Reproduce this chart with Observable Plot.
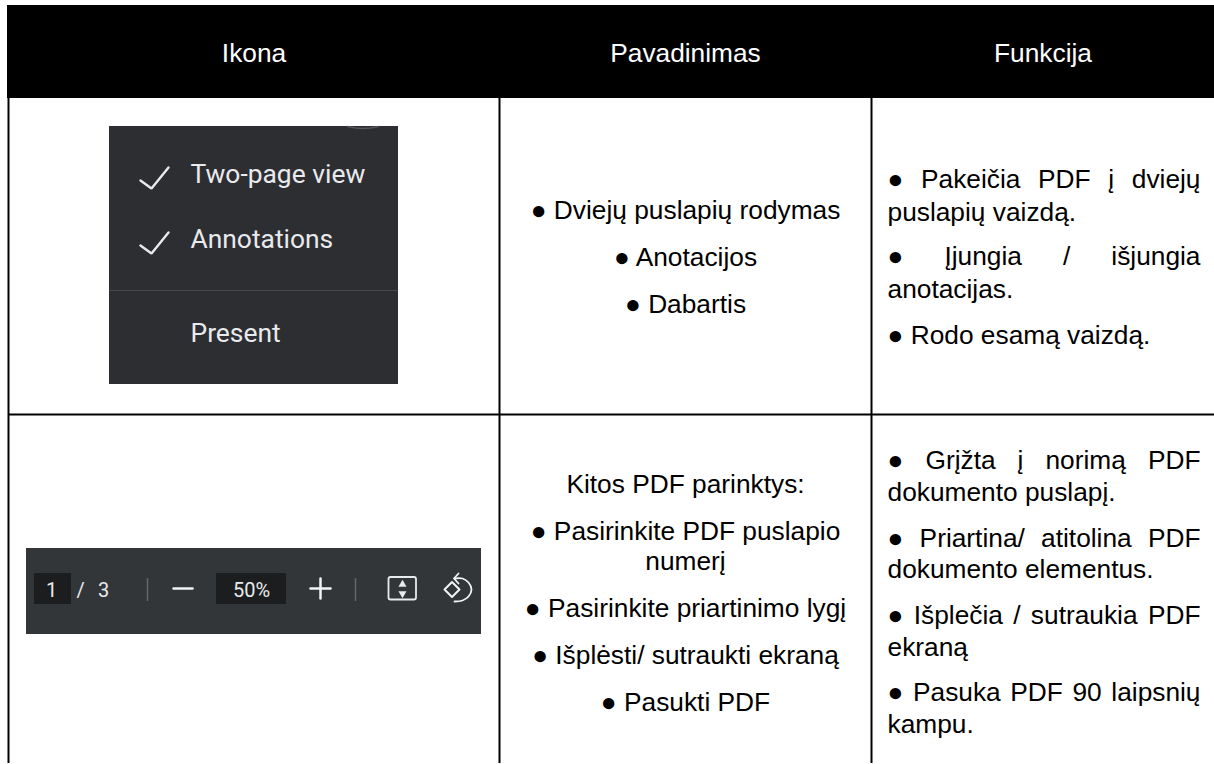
<!DOCTYPE html>
<html>
<head>
<meta charset="utf-8">
<style>
html,body{margin:0;padding:0;background:#fff;overflow:hidden}
svg{display:block}
</style>
<script src="https://cdn.jsdelivr.net/npm/d3@7"></script>
<script src="https://cdn.jsdelivr.net/npm/@observablehq/plot@0.6"></script>
</head>
<body>
<script>
// ---- table content ----
const headers = ["Ikona", "Pavadinimas", "Funkcija"];
const namesRow1 = ["● Dviejų puslapių rodymas", "● Anotacijos", "● Dabartis"];
const namesRow2 = ["Kitos PDF parinktys:", "● Pasirinkite PDF puslapio", "numerį",
  "● Pasirinkite priartinimo lygį", "● Išplėsti/ sutraukti ekraną", "● Pasukti PDF"];
const functionsRow1 = ["● Pakeičia PDF į dviejų", "puslapių vaizdą.", "● Įjungia / išjungia",
  "anotacijas.", "● Rodo esamą vaizdą."];
const functionsRow2 = ["● Grįžta į norimą PDF", "dokumento puslapį.", "● Priartina/ atitolina PDF",
  "dokumento elementus.", "● Išplečia / sutraukia PDF", "ekraną", "● Pasuka PDF 90 laipsnių", "kampu."];
const justifiedLines = new Set(["● Pakeičia PDF į dviejų", "● Įjungia / išjungia", "● Grįžta į norimą PDF",
  "● Priartina/ atitolina PDF", "● Išplečia / sutraukia PDF", "● Pasuka PDF 90 laipsnių"]);
const menuLabels = ["Two-page view", "Annotations", "Present"];
const toolbarLabels = ["1", "/", "3", "50%"];

// ---- layout (the scales below are 1:1 with the picture) ----
const W = 1214, H = 764;
const colEdges = [8, 499, 871, W];
const headerBand = [5, 98], rowLine = 414, tableBottom = 763;
const fontBody = "Liberation Sans", fontUi = "Roboto", bodySize = 26.3;
const headerBase = 61;
const nameBase1 = [218, 265, 312], nameBase2 = [492, 539, 569, 616, 663, 710];
const funcBase1 = [187, 220, 264, 297, 343], funcBase2 = [468, 500, 546, 577, 623, 655, 700, 732];
const funcLeft = 887, funcRight = 1200;
const center = i => (colEdges[i] + colEdges[i + 1]) / 2;

// Measure words so the justified lines can be spread across the cell
const ctx = document.createElement("canvas").getContext("2d");
ctx.font = `${bodySize}px "${fontBody}"`;
const functionWords = (lines, bases) => lines.flatMap((line, i) => {
  const words = line.split(" ");
  if (!justifiedLines.has(line)) return [{text: line, x: funcLeft, y: bases[i]}];
  const widths = words.map(w => ctx.measureText(w).width);
  const gap = (funcRight - funcLeft - d3.sum(widths)) / (words.length - 1);
  let x = funcLeft;
  return words.map((text, k) => { const o = {text, x, y: bases[i]}; x += widths[k] + gap; return o; });
});

const bodyCentered = [
  ...namesRow1.map((text, i) => ({text, y: nameBase1[i]})),
  ...namesRow2.map((text, i) => ({text, y: nameBase2[i]}))
];
const bodyWords = [...functionWords(functionsRow1, funcBase1), ...functionWords(functionsRow2, funcBase2)];

// ---- screenshots inside the "Ikona" column ----
const menuBox = {x1: 109, x2: 398, y1: 126, y2: 384};
const toolbarBox = {x1: 26, x2: 481, y1: 548, y2: 634};
const toolbarInputs = [{x1: 34, x2: 71}, {x1: 216, x2: 286}];
const menuText = [{x: 190, y: 182}, {x: 190, y: 247}, {x: 190, y: 341}].map((p, i) => ({...p, text: menuLabels[i]}));
const toolbarText = [{x: 51, y: 596}, {x: 80, y: 596}, {x: 103, y: 596}, {x: 251, y: 596}].map((p, i) => ({...p, text: toolbarLabels[i]}));
const checks = [
  {id: "a", x: 140, y: 180}, {id: "a", x: 151, y: 188}, {id: "a", x: 168, y: 167},
  {id: "b", x: 140, y: 245}, {id: "b", x: 151, y: 253}, {id: "b", x: 168, y: 232}
];
const menuArc = [{x: 347, y: 126}, {x: 355, y: 127.5}, {x: 362, y: 128}, {x: 370, y: 127.5}, {x: 378, y: 126}];
const toolStrokes = [
  {id: "minus", x: 173, y: 588}, {id: "minus", x: 192, y: 588},
  {id: "plusH", x: 310, y: 588}, {id: "plusH", x: 330, y: 588},
  {id: "plusV", x: 320, y: 578}, {id: "plusV", x: 320, y: 598}
];
const diamond = [{x: 444, y: 589}, {x: 451.5, y: 581.5}, {x: 459, y: 589}, {x: 451.5, y: 596.5}, {x: 444, y: 589}];
const rotateArc = [{x: 454, y: 578}, {x: 462, y: 578}, {x: 468, y: 582}, {x: 471, y: 589}, {x: 468, y: 596}, {x: 462, y: 600}, {x: 454, y: 601}];
const rotateHead = [{x: 458, y: 573}, {x: 453.5, y: 578}, {x: 458, y: 583}];
const fitTriangles = [{x: 402, y: 584, rotate: 0}, {x: 402, y: 593, rotate: 180}];

const chart = Plot.plot({
  width: W, height: H,
  margin: 0,
  x: {domain: [0, W], range: [0, W], axis: null},
  y: {domain: [0, H], range: [0, H], axis: null},
  marks: [
    // table frame
    Plot.rect([headerBand], {x1: 7, x2: W, y1: d => d[0], y2: d => d[1], fill: "#000"}),
    Plot.ruleX(colEdges.slice(0, 3), {y1: headerBand[1], y2: tableBottom, stroke: "#000", strokeWidth: 2}),
    Plot.ruleY([rowLine], {x1: colEdges[0], x2: W, stroke: "#000", strokeWidth: 2}),
    // header
    Plot.text(headers, {x: (d, i) => center(i), y: headerBase, text: d => d, fill: "#fff", fontFamily: fontBody, fontSize: bodySize, lineAnchor: "bottom"}),
    // name column
    Plot.text(bodyCentered, {x: center(1), y: "y", text: "text", fill: "#000", fontFamily: fontBody, fontSize: bodySize, lineAnchor: "bottom"}),
    // function column
    Plot.text(bodyWords, {x: "x", y: "y", text: "text", fill: "#000", fontFamily: fontBody, fontSize: bodySize, textAnchor: "start", lineAnchor: "bottom"}),

    // menu screenshot
    Plot.rect([menuBox], {x1: "x1", x2: "x2", y1: "y1", y2: "y2", fill: "#2d2e32"}),
    Plot.line(menuArc, {x: "x", y: "y", stroke: "#55565a", strokeWidth: 1.5}),
    Plot.ruleY([290], {x1: menuBox.x1, x2: menuBox.x2, stroke: "#47484c", strokeWidth: 1}),
    Plot.line(checks, {x: "x", y: "y", z: "id", stroke: "#e8eaed", strokeWidth: 2.4, strokeLinejoin: "miter"}),
    Plot.text(menuText, {x: "x", y: "y", text: "text", fill: "#e8eaed", fontFamily: fontUi, fontSize: 26.4, textAnchor: "start", lineAnchor: "bottom"}),

    // toolbar screenshot
    Plot.rect([toolbarBox], {x1: "x1", x2: "x2", y1: "y1", y2: "y2", fill: "#323639"}),
    Plot.rect(toolbarInputs, {x1: "x1", x2: "x2", y1: 573, y2: 604, fill: "#1b1d1f"}),
    Plot.ruleX([147, 355], {y1: 578, y2: 601, stroke: "#64676a", strokeWidth: 1.5}),
    Plot.text(toolbarText, {x: "x", y: "y", text: "text", fill: "#e8eaed", fontFamily: fontUi, fontSize: 20, lineAnchor: "bottom"}),
    Plot.line(toolStrokes, {x: "x", y: "y", z: "id", stroke: "#f1f3f4", strokeWidth: 2.5}),
    Plot.rect([{}], {x1: 388.5, x2: 416, y1: 577, y2: 599.5, fill: "none", stroke: "#e8eaed", strokeWidth: 1.8, r: 2}),
    Plot.dot(fitTriangles, {x: "x", y: "y", rotate: "rotate", symbol: "triangle", r: 3, fill: "#e8eaed"}),
    Plot.line(diamond, {x: "x", y: "y", stroke: "#f1f3f4", strokeWidth: 2}),
    Plot.line(rotateArc, {x: "x", y: "y", stroke: "#f1f3f4", strokeWidth: 1.8, curve: "catmull-rom"}),
    Plot.line(rotateHead, {x: "x", y: "y", stroke: "#f1f3f4", strokeWidth: 1.8})
  ]
});
document.body.appendChild(chart);
</script>
</body>
</html>
